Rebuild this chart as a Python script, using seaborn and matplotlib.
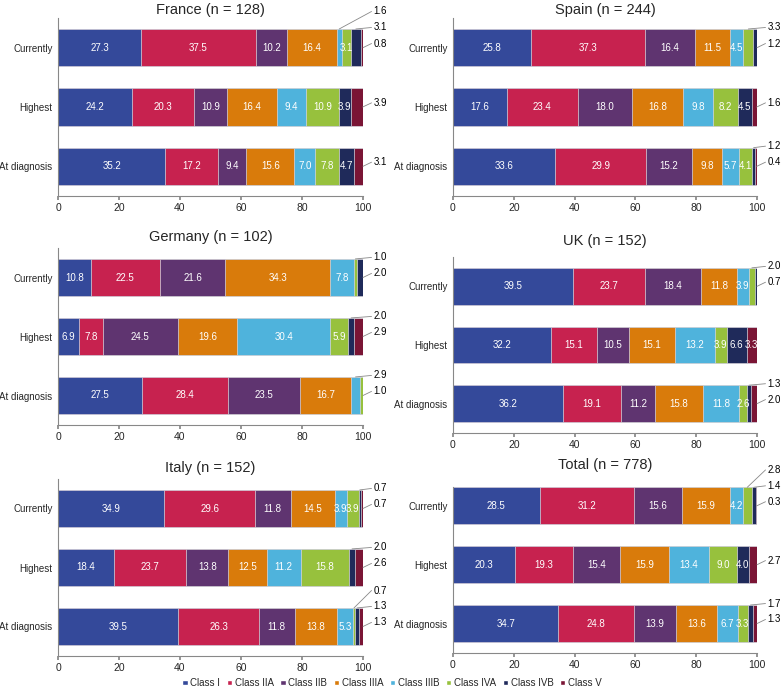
import matplotlib
matplotlib.use("Agg")
import matplotlib.pyplot as plt
from matplotlib.patches import Patch
import numpy as np
import pandas as pd
import seaborn as sns

classes = ["Class I", "Class IIA", "Class IIB", "Class IIIA", "Class IIIB", "Class IVA", "Class IVB", "Class V"]
colors = ["#34499a", "#c7224f", "#5f3470", "#d97b0b", "#4fb3dc", "#97c13d", "#1f2a5a", "#7a1535"]
rows = ["Currently", "Highest", "At diagnosis"]

france = [[27.3, 37.5, 10.2, 16.4, 1.6, 3.1, 3.1, 0.8],
          [24.2, 20.3, 10.9, 16.4, 9.4, 10.9, 3.9, 3.9],
          [35.2, 17.2, 9.4, 15.6, 7.0, 7.8, 4.7, 3.1]]
spain = [[25.8, 37.3, 16.4, 11.5, 4.5, 3.3, 1.2, 0.0],
         [17.6, 23.4, 18.0, 16.8, 9.8, 8.2, 4.5, 1.6],
         [33.6, 29.9, 15.2, 9.8, 5.7, 4.1, 1.2, 0.4]]
germany = [[10.8, 22.5, 21.6, 34.3, 7.8, 1.0, 2.0, 0.0],
           [6.9, 7.8, 24.5, 19.6, 30.4, 5.9, 2.0, 2.9],
           [27.5, 28.4, 23.5, 16.7, 2.9, 1.0, 0.0, 0.0]]
uk = [[39.5, 23.7, 18.4, 11.8, 3.9, 2.0, 0.7, 0.0],
      [32.2, 15.1, 10.5, 15.1, 13.2, 3.9, 6.6, 3.3],
      [36.2, 19.1, 11.2, 15.8, 11.8, 2.6, 1.3, 2.0]]
italy = [[34.9, 29.6, 11.8, 14.5, 3.9, 3.9, 0.7, 0.7],
         [18.4, 23.7, 13.8, 12.5, 11.2, 15.8, 2.0, 2.6],
         [39.5, 26.3, 11.8, 13.8, 5.3, 0.7, 1.3, 1.3]]
total = [[28.5, 31.2, 15.6, 15.9, 4.2, 2.8, 1.4, 0.3],
         [20.3, 19.3, 15.4, 15.9, 13.4, 9.0, 4.0, 2.7],
         [34.7, 24.8, 13.9, 13.6, 6.7, 3.3, 1.7, 1.3]]

titles = ["France (n = 128)", "Spain (n = 244)", "Germany (n = 102)",
          "UK (n = 152)", "Italy (n = 152)", "Total (n = 778)"]
panels = [france, spain, germany, uk, italy, total]

# class indices whose labels sit outside the bar, per panel and row
outside = [
    [[4, 6, 7], [7], [7]],
    [[5, 6], [7], [6, 7]],
    [[5, 6], [6, 7], [4, 5]],
    [[5, 6], [], [6, 7]],
    [[6, 7], [6, 7], [5, 6, 7]],
    [[5, 6, 7], [7], [6, 7]],
]

# axes boxes in pixels (x0, y0, x1, y1), title pads, top y limit
W, H = 784, 694
boxes = [(58, 18, 363, 196), (453, 18, 757, 196),
         (58, 248, 363, 425), (453, 257, 757, 433),
         (58, 479, 363, 656), (453, 487, 757, 653)]
pads = [3, 3, 5, 8.5, 5, 13]
ytops = [-0.5, -0.5, -0.5, -0.5, -0.5, -0.32]

sns.set_theme(style="white")
plt.rcParams["font.family"] = ["Liberation Sans", "DejaVu Sans"]

fig = plt.figure(figsize=(W / 100, H / 100), dpi=100)

bar_h = 0.63
for box, data, title, outs, pad, ytop in zip(boxes, panels, titles, outside, pads, ytops):
    x0, y0, x1, y1 = box
    ax = fig.add_axes([x0 / W, 1 - y1 / H, (x1 - x0) / W, (y1 - y0) / H])
    arr = np.array(data)
    cum = np.cumsum(arr, axis=1)
    # draw cumulative bars longest first so that shorter ones sit on top
    for i in range(len(classes) - 1, -1, -1):
        df = pd.DataFrame({"row": rows, "value": cum[:, i]})
        sns.barplot(data=df, x="value", y="row", orient="h", color=colors[i],
                    saturation=1, width=bar_h, errorbar=None, ax=ax,
                    edgecolor="#d8d8e0", linewidth=0.5)
    for r in range(len(rows)):
        for i, v in enumerate(arr[r]):
            if v <= 0 or i in outs[r]:
                continue
            ax.text(cum[r, i] - v / 2, r, f"{v:.1f}", ha="center", va="center",
                    color="white", fontsize=7)
        n = len(outs[r])
        for k, i in enumerate(outs[r]):
            v = arr[r, i]
            ty = r - 0.07 - (n - 1 - k) * 0.27
            if k == n - 1:
                lx, ly = cum[r, i], r
            else:
                lx, ly = cum[r, i] - v / 2, r - bar_h / 2
            ax.plot([lx, 102.8], [ly, ty], color="#888888", lw=0.6, clip_on=False)
            ax.text(103.4, ty, f"{v:.1f}", ha="left", va="center", fontsize=7,
                    color="black", clip_on=False)
    ax.set_xlim(0, 100)
    ax.set_ylim(2.5, ytop)
    ax.set_xticks([0, 20, 40, 60, 80, 100])
    ax.set_xlabel("")
    ax.set_ylabel("")
    ax.set_title(title, fontsize=10.5, pad=pad)
    ax.tick_params(axis="x", labelsize=7.5, length=3, color="#888888", bottom=True, pad=2)
    ax.tick_params(axis="y", labelsize=7, length=0, pad=4)
    for s in ["top", "right"]:
        ax.spines[s].set_visible(False)
    for s in ["left", "bottom"]:
        ax.spines[s].set_color("#888888")
        ax.spines[s].set_linewidth(0.8)

handles = [Patch(facecolor=c, label=l) for c, l in zip(colors, classes)]
fig.legend(handles=handles, loc="center", ncol=8, frameon=False, fontsize=7,
           handlelength=0.55, handleheight=0.55, handletextpad=0.25, columnspacing=0.7,
           bbox_to_anchor=(0.5, 1 - 683 / H))

fig.savefig("out.png", dpi=100)
